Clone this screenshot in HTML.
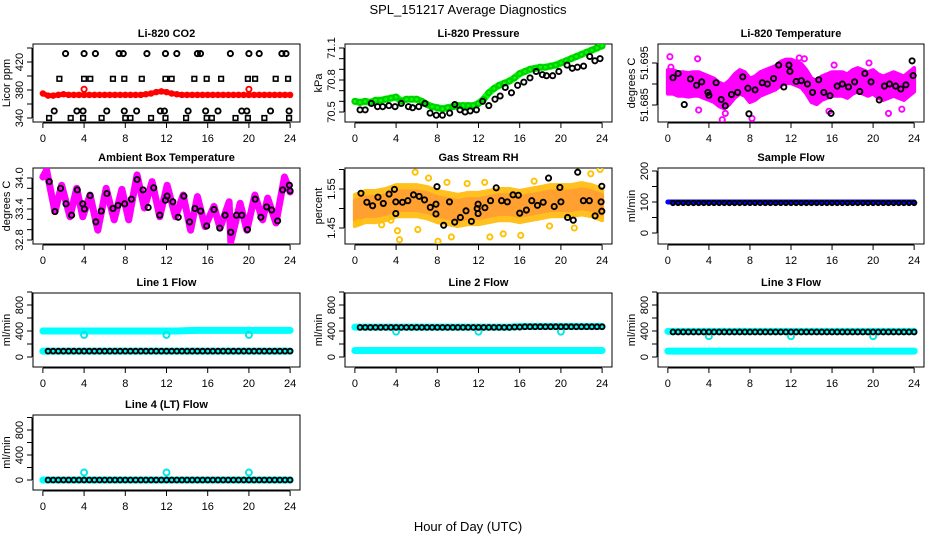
<!DOCTYPE html>
<html><head><meta charset="utf-8"><style>
html,body{margin:0;padding:0;background:#fff;}
svg{display:block;font-family:"Liberation Sans",sans-serif;}
</style></head><body>
<svg id="fig" width="936" height="540" viewBox="0 0 936 540" xmlns="http://www.w3.org/2000/svg">
<text x="468" y="14" text-anchor="middle" font-size="13">SPL_151217  Average Diagnostics</text>
<text x="468" y="531" text-anchor="middle" font-size="13">Hour of Day (UTC)</text>
</svg>
<script>
// ---------- data ----------
const halfHours = [0,0.5,1,1.5,2,2.5,3,3.5,4,4.5,5,5.5,6,6.5,7,7.5,8,8.5,9,9.5,10,10.5,11,11.5,12,12.5,13,13.5,14,14.5,15,15.5,16,16.5,17,17.5,18,18.5,19,19.5,20,20.5,21,21.5,22,22.5,23,23.5,24];
const hours = [0,1,2,3,4,5,6,7,8,9,10,11,12,13,14,15,16,17,18,19,20,21,22,23,24];
const blackHalfX = [0.5,1,1.5,2,2.5,3,3.5,4,4.5,5,5.5,6,6.5,7,7.5,8,8.5,9,9.5,10,10.5,11,11.5,12,12.5,13,13.5,14,14.5,15,15.5,16,16.5,17,17.5,18,18.5,19,19.5,20,20.5,21,21.5,22,22.5,23,23.5,24];

const co2Red = [375,372,372,373,374,373,373,373,373,373,373,373,373,373,373,373,373,373,373,373,374,375,377,378,377,375,374,373,373,373,373,373,373,373,373,373,373,373,373,373,373,373,373,373,373,373,373,373,373];
const co2RedOutX = [4,20]; const co2RedOutY = [381,381];
const co2TopX = [2.2,4,5.1,7.4,7.8,10.1,11.9,13,15,15.3,18.2,20,21,23.2,23.6];
const co2SqX = [1.6,4,4.6,6.8,7.9,9.6,11.9,12.5,14.7,15.9,17.3,19.9,20.6,22.6,23.8];
const co2LowX = [1.1,3.3,3.9,6.2,7.9,9.1,11.4,11.8,14.1,15.8,17,19.3,19.8,22.1,23.9];
const co2BotX = [0.6,2.7,3.9,5.7,8,8.5,10.5,11.9,13.9,15.9,16.4,18.7,19.9,21.5,23.9];

const presGreen = [70.60,70.59,70.60,70.59,70.61,70.61,70.62,70.63,70.64,70.60,70.62,70.62,70.62,70.60,70.57,70.55,70.54,70.53,70.54,70.55,70.56,70.56,70.56,70.56,70.58,70.62,70.68,70.72,70.75,70.77,70.79,70.82,70.86,70.88,70.90,70.91,70.92,70.92,70.93,70.94,70.96,70.98,71.00,71.02,71.04,71.06,71.08,71.10,71.12];
const presBlackX = [0.5,1,1.6,2.2,2.7,3.3,3.9,4.5,5.2,5.6,6.2,6.8,7.3,7.9,8.5,9.2,9.7,10.2,10.7,11.2,11.8,12.4,13,13.6,14.1,14.6,15.2,15.8,16.4,17,17.6,18.2,18.6,19.2,19.8,20.6,21.1,21.6,22.2,22.8,23.3,23.8];
const presBlackY = [70.52,70.52,70.58,70.55,70.55,70.56,70.55,70.58,70.55,70.54,70.55,70.58,70.49,70.47,70.47,70.49,70.57,70.52,70.50,70.51,70.52,70.60,70.56,70.62,70.65,70.73,70.68,70.75,70.78,70.82,70.88,70.85,70.84,70.84,70.88,70.94,70.91,70.92,70.93,71.02,70.98,71.00];

const tempCenter = [51.6905,51.6905,51.690,51.690,51.6898,51.690,51.690,51.6895,51.689,51.6885,51.6875,51.6870,51.6880,51.6895,51.6905,51.690,51.6885,51.689,51.690,51.6905,51.691,51.6915,51.6925,51.693,51.693,51.6925,51.692,51.6905,51.6885,51.6880,51.6890,51.6895,51.690,51.690,51.690,51.6895,51.6905,51.691,51.6905,51.690,51.6905,51.6895,51.6890,51.6895,51.690,51.6895,51.689,51.690,51.691];
const tempSpread = 0.0028;
const tempOutX = [0.2,0.3,3,5.3,5.6,8.2,12.8,13.3,15.7,21.5,22.8,2.9,16.2,19.6];
const tempOutY = [51.6965,51.6940,51.6838,51.6815,51.6830,51.6818,51.6962,51.6960,51.6835,51.6830,51.6840,51.6960,51.6945,51.6950];
const tempBlackX = [0.5,1,1.6,2.2,2.8,3.3,3.9,4,4.7,5.2,5.6,6.2,6.8,7.3,7.8,7.9,8.5,9.2,9.7,10.3,10.8,11.3,11.8,11.9,12.5,13,13.6,14.1,14.7,15.2,15.8,15.9,16.5,17,17.6,18.2,18.7,19.2,19.8,20.6,21.1,21.6,22.2,22.7,23.2,23.8,23.9];
const tempBlackY = [51.6915,51.6925,51.6851,51.6912,51.6897,51.6905,51.6880,51.6873,51.6903,51.6863,51.6848,51.6875,51.6880,51.6917,51.6890,51.6829,51.6886,51.6903,51.6900,51.6913,51.6945,51.6893,51.6945,51.6930,51.6906,51.6908,51.6900,51.6880,51.6910,51.6880,51.6872,51.6830,51.6895,51.6900,51.6893,51.6905,51.6882,51.6925,51.6905,51.6862,51.6895,51.6900,51.6895,51.6888,51.6898,51.6955,51.6920];

const ambX = [0,0.36,1.17,1.82,2.63,3.28,3.87,4.58,5.33,6.14,6.92,7.67,8.33,9.14,9.85,10.6,11.35,12.06,12.87,13.62,14.34,15.0,15.74,16.61,17.2,18.08,18.24,19.15,19.8,20.58,21.33,21.82,22.63,23.45,24];
const ambY = [34.02,34.15,33.35,33.86,33.25,33.80,33.25,33.67,32.99,33.80,33.19,33.78,33.19,34.06,33.42,33.93,33.25,33.86,33.25,33.67,32.99,33.64,33.06,33.45,33.03,33.54,32.77,33.51,32.99,33.67,33.19,33.61,33.13,34.02,33.73];
const ambBlackX = [0.62,1.17,1.72,2.24,2.79,3.34,3.87,4.03,4.58,5.14,5.66,6.21,6.8,7.29,7.94,8.59,9.14,9.72,10.22,10.76,11.35,11.9,12.06,12.62,13.14,13.69,14.24,14.76,15.31,15.9,16.61,17.17,17.69,18.24,18.79,19.31,19.86,20.61,21.16,21.72,22.21,22.79,23.28,23.93,24];
const ambBlackY = [33.93,33.35,33.80,33.50,33.28,33.77,33.50,33.40,33.66,33.15,33.36,33.70,33.41,33.47,33.50,33.59,33.97,33.77,33.43,33.81,33.28,33.57,33.65,33.54,33.24,33.65,33.15,33.41,33.36,33.07,33.39,33.03,33.28,32.95,33.28,33.28,33.00,33.59,33.24,33.44,33.38,33.17,33.77,33.86,33.75];

const rhCenter = [1.495,1.505,1.505,1.51,1.52,1.52,1.52,1.515,1.505,1.50,1.495,1.50,1.50,1.505,1.51,1.51,1.505,1.51,1.515,1.52,1.52,1.52,1.525,1.52,1.51];
const rhSpread = 0.04;
const rhOutX = [5.85,7.15,8.94,4.13,4.33,8.07,9.37,13.1,14.4,16.1,12.6,10.9,22.9,23.8,17.4,6.11,21.3,3.5,0.3,2.6,18.9];
const rhOutY = [1.593,1.578,1.567,1.443,1.420,1.416,1.427,1.427,1.435,1.431,1.567,1.564,1.589,1.600,1.570,1.446,1.450,1.470,1.465,1.458,1.455];
const rhBlackX = [0.59,1.16,1.72,2.24,2.76,3.32,3.84,3.97,3.97,4.62,5.14,5.69,6.24,6.76,7.32,7.87,7.97,7.87,8.62,9.18,9.69,10.24,10.79,11.31,11.87,11.96,11.96,12.62,13.17,13.72,14.24,14.8,15.35,15.87,16.0,16.65,17.17,17.72,18.28,18.8,19.35,19.9,20,20.65,21.2,21.63,22.18,22.76,23.32,23.9,23.97,23.97];
const rhBlackY = [1.539,1.516,1.507,1.529,1.513,1.537,1.549,1.517,1.487,1.516,1.520,1.535,1.531,1.522,1.503,1.511,1.556,1.486,1.457,1.517,1.465,1.477,1.494,1.467,1.500,1.511,1.487,1.502,1.520,1.553,1.520,1.517,1.535,1.534,1.488,1.496,1.520,1.508,1.516,1.578,1.505,1.554,1.517,1.477,1.470,1.593,1.520,1.520,1.481,1.517,1.493,1.557];

const sampleBlue = [100,100,100,100,100,100,100,100,100,100,100,100,100,100,100,100,100,100,100,100,100,100,100,100,100];
const sampleBlack = [97,97,97,97,97,97,97,97,97,97,97,97,97,97,97,97,97,97,97,97,97,97,97,97,97,97,97,97,97,97,97,97,97,97,97,97,97,97,97,97,97,97,97,97,97,97,97,97];

const flowDipX = [4,12,20];
const l1CyanHi = [400,400,400,400,400,400,400,400,400,400,400,400,400,400,405,410,410,410,410,410,410,410,410,410,410];
const l1CyanLo = [90,90,90,90,90,90,90,90,90,90,90,90,90,90,90,90,90,90,90,90,90,90,90,90,90];
const l1Dip = [340,340,340];
const l1Black = [90,90,90,90,90,90,90,90,90,90,90,90,90,90,90,90,90,90,90,90,90,90,90,90,90,90,90,90,90,90,90,90,90,90,90,90,90,90,90,90,90,90,90,90,90,90,90,90];
const l2CyanHi = [460,460,460,460,460,460,460,460,460,460,460,460,460,460,460,460,470,470,470,470,470,470,470,470,470];
const l2CyanLo = [100,100,100,100,100,100,100,100,100,100,100,100,100,100,100,100,100,100,100,100,100,100,100,100,100];
const l2Dip = [390,390,390];
const l2Black = [455,455,455,455,455,455,455,455,455,455,455,455,455,455,455,455,455,455,455,455,455,455,455,455,455,455,455,455,455,455,460,460,465,465,465,465,465,465,465,465,465,465,465,465,465,465,465,465];
const l3CyanHi = [395,395,395,395,395,395,395,395,395,395,395,395,395,395,395,395,395,395,395,395,395,395,395,395,395];
const l3CyanLo = [90,90,90,90,90,90,90,90,90,90,90,90,90,90,90,90,90,90,90,90,90,90,90,90,90];
const l3Dip = [320,320,320];
const l3Black = [385,385,385,385,385,385,385,385,385,385,385,385,385,385,385,385,385,385,385,385,385,385,385,385,385,385,385,385,385,385,385,385,385,385,385,385,385,385,385,385,385,385,385,385,385,385,385,385];
const l4Cyan = [0,0,0,0,0,0,0,0,0,0,0,0,0,0,0,0,0,0,0,0,0,0,0,0,0];
const l4Dip = [120,120,120];
const l4Black = [0,0,0,0,0,0,0,0,0,0,0,0,0,0,0,0,0,0,0,0,0,0,0,0,0,0,0,0,0,0,0,0,0,0,0,0,0,0,0,0,0,0,0,0,0,0,0,0];

const xTicks = [0,4,8,12,16,20,24];
const flowTicks = [0,200,400,600,800,1000];
const flowLabels = [0,400,800];

// ---------- drawing ----------
const NS = 'http://www.w3.org/2000/svg';
const svg = document.getElementById('fig');
function mk(tag, attrs, parent){
  const e = document.createElementNS(NS, tag);
  for (const k in attrs) e.setAttribute(k, attrs[k]);
  (parent||svg).appendChild(e);
  return e;
}
const cols = [[33,300],[345,612],[658,924]];
const rows = [[44,122],[168,244],[293,367],[415,490]];

function makePanel(cfg){
  const [x0,x1] = cols[cfg.col], [y0,y1] = rows[cfg.row];
  const g = mk('g', {});
  
  
  const xs = v => x0 + (v + 0.96) / 25.92 * (x1 - x0);
  const [v1,p1,v2,p2] = cfg.ref;
  const ys = v => p1 + (v - v1) * (p2 - p1) / (v2 - v1);
  const t = mk('text', {x:(x0+x1)/2, y:y0-7, 'text-anchor':'middle', 'font-size':11, 'font-weight':'bold'}, g);
  t.textContent = cfg.title;
  
  
  const b = mk('rect', {x:x0, y:y0, width:x1-x0, height:y1-y0, fill:'none', stroke:'#000', 'stroke-width':1}, g);
  
  
  const xa = mk('g', {}, g);
  
  
  mk('line', {x1:xs(xTicks[0]), x2:xs(xTicks[xTicks.length-1]), y1:y1+1, y2:y1+1, stroke:'#000'}, xa);
  xTicks.forEach(v => {
    mk('line', {x1:xs(v), x2:xs(v), y1:y1+1, y2:y1+6, stroke:'#000'}, xa);
    const tl = mk('text', {x:xs(v), y:y1+20, 'text-anchor':'middle', 'font-size':11}, xa);
    tl.textContent = v;
    
    
  });
  const ya = mk('g', {}, g);
  
  
  const tk = cfg.ticks.filter(v => ys(v) >= y0-1 && ys(v) <= y1+1);
  mk('line', {x1:x0-1, x2:x0-1, y1:ys(tk[0]), y2:ys(tk[tk.length-1]), stroke:'#000'}, ya);
  tk.forEach(v => mk('line', {x1:x0-6, x2:x0-1, y1:ys(v), y2:ys(v), stroke:'#000'}, ya));
  cfg.labels.forEach(v => {
    const yy = ys(v);
    const tl = mk('text', {x:x0-10, y:yy, 'text-anchor':'middle', 'font-size':11, transform:`rotate(-90 ${x0-10} ${yy})`}, ya);
    tl.textContent = cfg.fmt ? v.toFixed(cfg.fmt) : v;
    
    
  });
  const yl = mk('text', {x:x0-23, y:(y0+y1)/2, 'text-anchor':'middle', 'font-size':11, transform:`rotate(-90 ${x0-23} ${(y0+y1)/2})`}, g);
  yl.textContent = cfg.ylab;
  
  
  const clipId = 'c' + cfg.col + cfg.row;
  const cp = mk('clipPath', {id:clipId}, g);
  mk('rect', {x:x0, y:y0, width:x1-x0, height:y1-y0}, cp);
  const m = mk('g', {'clip-path':`url(#${clipId})`}, g);
  
  
  return {g:m, xs, ys};
}
function line(P, X, Y, color, w, name){
  const pts = X.map((x,i) => P.xs(x) + ',' + P.ys(Y[i])).join(' ');
  const e = mk('polyline', {points:pts, fill:'none', stroke:color, 'stroke-width':w, 'stroke-linejoin':'round', 'stroke-linecap':'round'}, P.g);
  
  
}
function band(P, X, C, s, color, name){
  const up = X.map((x,i) => P.xs(x) + ',' + P.ys(C[i] + s));
  const dn = X.map((x,i) => P.xs(x) + ',' + P.ys(C[i] - s)).reverse();
  const e = mk('polygon', {points:up.concat(dn).join(' '), fill:color, stroke:color, 'stroke-width':4, 'stroke-linejoin':'round'}, P.g);
  
  
}
function pts(P, X, Y, color, name, r, sq){
  X.forEach((x,i) => {
    const cx = P.xs(x), cy = P.ys(Y[i]);
    let e;
    if (sq) e = mk('rect', {x:cx-2.3, y:cy-2.3, width:4.6, height:4.6, fill:'none', stroke:color, 'stroke-width':1.6}, P.g);
    else e = mk('circle', {cx, cy, r:r||2.6, fill:'none', stroke:color, 'stroke-width':1.9}, P.g);
    
    
  });
}
function constArr(X, v){ return X.map(() => v); }

let P = makePanel({name:'panel-co2', col:0, row:0, title:'Li-820 CO2', ylab:'Licor ppm', ref:[340,118,420,62], ticks:[340,360,380,400,420,440], labels:[340,380,420]});
line(P, halfHours, co2Red, '#ff0000', 5, 'co2-red-series');
pts(P, halfHours, co2Red, '#ff0000', 'co2-red-point', 2.3);
pts(P, co2RedOutX, co2RedOutY, '#ff0000', 'co2-red-outlier');
pts(P, co2TopX, constArr(co2TopX, 432), '#000', 'co2-black-point');
pts(P, co2SqX, constArr(co2SqX, 396), '#000', 'co2-black-square', 0, true);
pts(P, co2LowX, constArr(co2LowX, 350), '#000', 'co2-black-point');
pts(P, co2BotX, constArr(co2BotX, 340), '#000', 'co2-black-square', 0, true);

P = makePanel({name:'panel-pressure', col:1, row:0, title:'Li-820 Pressure', ylab:'kPa', ref:[70.5,112,71.1,48], ticks:[70.5,70.6,70.7,70.8,70.9,71.0,71.1], labels:[70.5,70.8,71.1], fmt:1});
line(P, halfHours, presGreen, '#00ff00', 7, 'pressure-green-series');
pts(P, halfHours, presGreen, '#00cc00', 'pressure-green-point', 2.5);
pts(P, presBlackX, presBlackY, '#000', 'pressure-black-point');

P = makePanel({name:'panel-li820-temp', col:2, row:0, title:'Li-820 Temperature', ylab:'degrees C', ref:[51.685,105,51.695,63], ticks:[51.680,51.685,51.690,51.695], labels:[51.685,51.695], fmt:3});
band(P, halfHours, tempCenter, tempSpread, '#ff00ff', 'temp-magenta-cloud');
pts(P, tempOutX, tempOutY, '#ff00ff', 'temp-magenta-point');
pts(P, tempBlackX, tempBlackY, '#000', 'temp-black-point');

P = makePanel({name:'panel-ambient-temp', col:0, row:1, title:'Ambient Box Temperature', ylab:'degrees C', ref:[32.8,240,34.0,178], ticks:[32.8,33.0,33.2,33.4,33.6,33.8,34.0], labels:[32.8,33.4,34.0], fmt:1});
line(P, ambX, ambY, '#ff00ff', 7, 'ambient-magenta-series');
pts(P, ambBlackX, ambBlackY, '#000', 'ambient-black-point');

P = makePanel({name:'panel-gas-rh', col:1, row:1, title:'Gas Stream RH', ylab:'percent', ref:[1.45,228,1.55,189], ticks:[1.45,1.50,1.55,1.60], labels:[1.45,1.55], fmt:2});
band(P, hours, rhCenter, rhSpread, '#ffc020', 'rh-orange-cloud');
band(P, hours, rhCenter, rhSpread*0.6, '#ffa030', 'rh-orange-core');
pts(P, rhOutX, rhOutY, '#ffc000', 'rh-orange-point');
pts(P, rhBlackX, rhBlackY, '#000', 'rh-black-point');

P = makePanel({name:'panel-sample-flow', col:2, row:1, title:'Sample Flow', ylab:'ml/min', ref:[0,233,100,202], ticks:[0,50,100,150,200], labels:[0,100,200]});
line(P, hours, sampleBlue, '#0000ff', 5, 'sample-blue-series');
pts(P, blackHalfX, sampleBlack, '#000', 'sample-black-point', 2.2);

function flowPanel(name, col, row, title, ref, hi, lo, dip, blk){
  const Q = makePanel({name, col, row, title, ylab:'ml/min', ref, ticks:flowTicks, labels:flowLabels});
  if (hi) line(Q, hours, hi, '#00ffff', 7, 'flow-cyan-high-series');
  line(Q, hours, lo, '#00ffff', 7, 'flow-cyan-low-series');
  pts(Q, flowDipX, dip, '#00e5e5', 'flow-cyan-outlier', 3);
  pts(Q, blackHalfX, blk, '#000', 'flow-black-point', 2.4);
}
flowPanel('panel-line1-flow', 0, 2, 'Line 1 Flow', [0,357,400,331], l1CyanHi, l1CyanLo, l1Dip, l1Black);
flowPanel('panel-line2-flow', 1, 2, 'Line 2 Flow', [0,357,400,331], l2CyanHi, l2CyanLo, l2Dip, l2Black);
flowPanel('panel-line3-flow', 2, 2, 'Line 3 Flow', [0,357,400,331], l3CyanHi, l3CyanLo, l3Dip, l3Black);
flowPanel('panel-line4-flow', 0, 3, 'Line 4 (LT) Flow', [0,480,400,455], null, l4Cyan, l4Dip, l4Black);
</script>
</body></html>
